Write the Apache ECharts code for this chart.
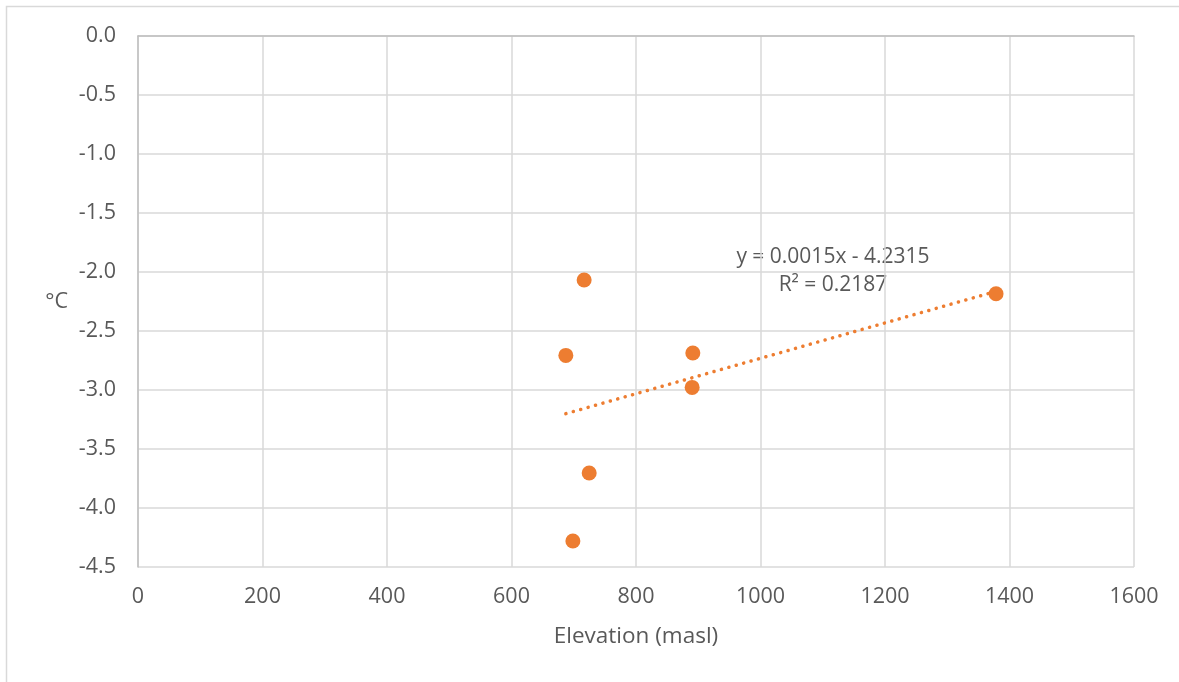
<!DOCTYPE html>
<html>
<head>
<meta charset="utf-8">
<script src="https://cdn.jsdelivr.net/npm/echarts@6/dist/echarts.min.js"></script>
<style>
html,body{margin:0;padding:0;background:#fff;}
#chart{width:1179px;height:682px;}
</style>
</head>
<body>
<div id="chart"></div>
<script>
// Data
const elevation = [716.7, 687.3, 891.3, 890.2, 1378.4, 724.8, 698.6];
const temperature = [-2.068, -2.707, -2.686, -2.978, -2.184, -3.703, -4.280];
const trendSlope = 0.0015;
const trendIntercept = -4.2315;
const trendLabel = ['y = 0.0015x - 4.2315', 'R\u00B2 = 0.2187'];
const xTicks = [0, 200, 400, 600, 800, 1000, 1200, 1400, 1600];
const yTicks = [0, -0.5, -1, -1.5, -2, -2.5, -3, -3.5, -4, -4.5];
const xTitle = 'Elevation (masl)';
const yTitle = '\u00B0C';

const points = elevation.map((x, i) => [x, temperature[i]]);
const xMin = Math.min(...elevation), xMax = Math.max(...elevation);
const trend = [[xMin, trendSlope * xMin + trendIntercept], [xMax, trendSlope * xMax + trendIntercept]];

const font = '"Open Sans", "Noto Sans", sans-serif';
const textColor = '#595959';
const chart = echarts.init(document.getElementById('chart'), null, {renderer: 'canvas'});
chart.setOption({
  animation: false,
  backgroundColor: '#ffffff',
  grid: {left: 138, right: 45, top: 36, bottom: 115, containLabel: false},
  xAxis: {
    type: 'value', min: xTicks[0], max: xTicks[xTicks.length - 1], interval: 200,
    name: xTitle, nameLocation: 'middle', nameGap: 58,
    nameTextStyle: {color: textColor, fontSize: 22.5, fontFamily: font},
    axisLine: {show: true, lineStyle: {color: '#bfbfbf', width: 1.5}},
    axisTick: {show: false},
    axisLabel: {color: textColor, fontSize: 21.5, fontFamily: font, margin: 19,
      formatter: v => String(v)},
    splitLine: {show: true, lineStyle: {color: '#d9d9d9', width: 1.5}}
  },
  yAxis: {
    type: 'value', min: yTicks[yTicks.length - 1], max: yTicks[0], interval: 0.5,
    name: yTitle, nameLocation: 'middle', nameGap: 70, nameRotate: 0,
    nameTextStyle: {color: textColor, fontSize: 21.5, fontFamily: font},
    axisLine: {show: true, onZero: false, lineStyle: {color: '#bfbfbf', width: 1.5}},
    axisTick: {show: false},
    axisLabel: {color: textColor, fontSize: 21.5, fontFamily: font, margin: 22,
      formatter: v => v.toFixed(1)},
    splitLine: {show: true, lineStyle: {color: '#d9d9d9', width: 1.5}}
  },
  graphic: [
    {type: 'rect', shape: {x: 6.5, y: 6.5, width: 1300, height: 800},
     style: {fill: 'none', stroke: '#d9d9d9', lineWidth: 1.5}, silent: true, z: -1},
    {type: 'text', x: 833, y: 257,
     style: {text: trendLabel[0], fill: textColor, fontSize: 21, fontFamily: font,
       align: 'center', verticalAlign: 'middle'}},
    {type: 'text', x: 833, y: 285,
     style: {text: trendLabel[1], fill: textColor, fontSize: 21, fontFamily: font,
       align: 'center', verticalAlign: 'middle'}}
  ],
  series: [
    {
      type: 'line', data: trend, symbol: 'none', silent: true, z: 1,
      lineStyle: {color: '#ED7D31', width: 3.5, type: [0.1, 7.6], cap: 'round'}
    },
    {
      type: 'scatter', data: points, symbol: 'circle', symbolSize: 15, z: 3,
      itemStyle: {color: '#ED7D31', opacity: 1}
    }
  ]
});
</script>
</body>
</html>
